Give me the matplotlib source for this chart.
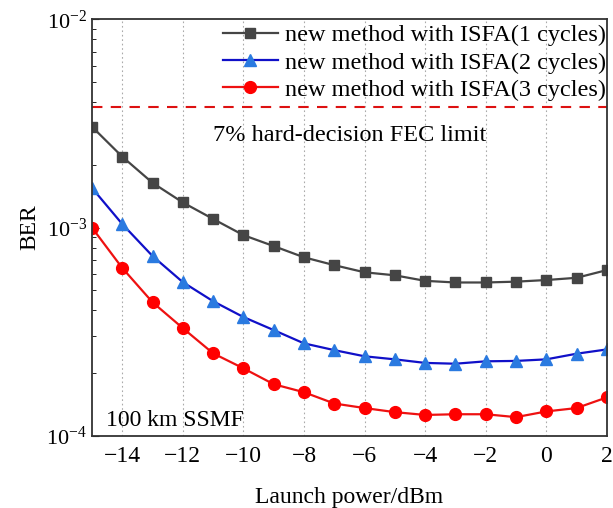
import matplotlib
matplotlib.use("Agg")
import matplotlib.pyplot as plt
from matplotlib.ticker import LogLocator, NullFormatter

plt.rcParams['font.family'] = ['Liberation Serif', 'DejaVu Serif']
plt.rcParams['mathtext.fontset'] = 'stix'

# ---------------------------------------------------------------------------
# Data
# ---------------------------------------------------------------------------
launch_power = [-15, -14, -13, -12, -11, -10, -9, -8, -7, -6, -5, -4, -3, -2, -1, 0, 1, 2]

ber_1cycle = [3.05e-3, 2.19e-3, 1.64e-3, 1.32e-3, 1.10e-3, 9.2e-4, 8.15e-4, 7.2e-4, 6.6e-4,
              6.1e-4, 5.9e-4, 5.55e-4, 5.45e-4, 5.45e-4, 5.5e-4, 5.6e-4, 5.74e-4, 6.25e-4]
ber_2cycle = [1.55e-3, 1.04e-3, 7.3e-4, 5.47e-4, 4.43e-4, 3.72e-4, 3.22e-4, 2.78e-4, 2.58e-4,
              2.41e-4, 2.33e-4, 2.24e-4, 2.22e-4, 2.28e-4, 2.29e-4, 2.33e-4, 2.48e-4, 2.6e-4]
ber_3cycle = [1.0e-3, 6.4e-4, 4.38e-4, 3.29e-4, 2.49e-4, 2.11e-4, 1.77e-4, 1.62e-4, 1.43e-4,
              1.36e-4, 1.30e-4, 1.26e-4, 1.27e-4, 1.27e-4, 1.23e-4, 1.31e-4, 1.36e-4, 1.53e-4]

fec_limit = 3.8e-3
labels = ["new method with ISFA(1 cycles)",
          "new method with ISFA(2 cycles)",
          "new method with ISFA(3 cycles)"]

# ---------------------------------------------------------------------------
# Figure
# ---------------------------------------------------------------------------
fig = plt.figure(figsize=(6.13, 5.08), dpi=100)
ax = fig.add_axes([0.150, 0.142, 0.840, 0.820])

ax.plot(launch_power, ber_1cycle, color="#454545", lw=1.6, marker="s", ms=7.5,
        mfc="#454545", mec="#454545", label=labels[0])
ax.plot(launch_power, ber_2cycle, color="#1010c8", lw=1.6, marker="^", ms=9,
        mfc="#2a7ae0", mec="#2a7ae0", label=labels[1])
ax.plot(launch_power, ber_3cycle, color="#ee1111", lw=1.6, marker="o", ms=8.5,
        mfc="#ff0000", mec="#ff0000", label=labels[2])

ax.axhline(fec_limit, color="#dd1111", lw=1.5, ls=(0, (5, 4)))
ax.text(-6.5, 2.78e-3, "7% hard-decision FEC limit", fontsize=17.5, ha="center", va="center")
ax.text(-14.55, 1.18e-4, "100 km SSMF", fontsize=17, ha="left", va="center")

ax.set_yscale("log")
ax.set_xlim(-15, 2)
ax.set_ylim(1e-4, 1e-2)
ax.set_xticks(range(-14, 3, 2))
ax.yaxis.set_minor_locator(LogLocator(base=10, subs=range(2, 10)))
ax.yaxis.set_minor_formatter(NullFormatter())
ax.grid(axis="x", which="major", color="#aaaaaa", ls=(0, (1.5, 2.5)), lw=0.8)

ax.tick_params(axis="y", which="major", direction="in", labelsize=16, length=5)
ax.tick_params(axis="x", which="major", direction="in", labelsize=17, length=0, pad=7)
ax.tick_params(axis="y", which="minor", direction="in", length=3)
for s in ax.spines.values():
    s.set_linewidth(1.3)
    s.set_color("#333333")

ax.set_xlabel("Launch power/dBm", fontsize=17, labelpad=15)
ax.set_ylabel("BER", fontsize=17, labelpad=4)

ax.legend(loc="upper right", bbox_to_anchor=(1.008, 1.0), frameon=False, fontsize=17.5,
          handlelength=2.25, borderaxespad=0.0, borderpad=0.2, labelspacing=0.22,
          handletextpad=0.3)

fig.savefig("out.png", dpi=100)
